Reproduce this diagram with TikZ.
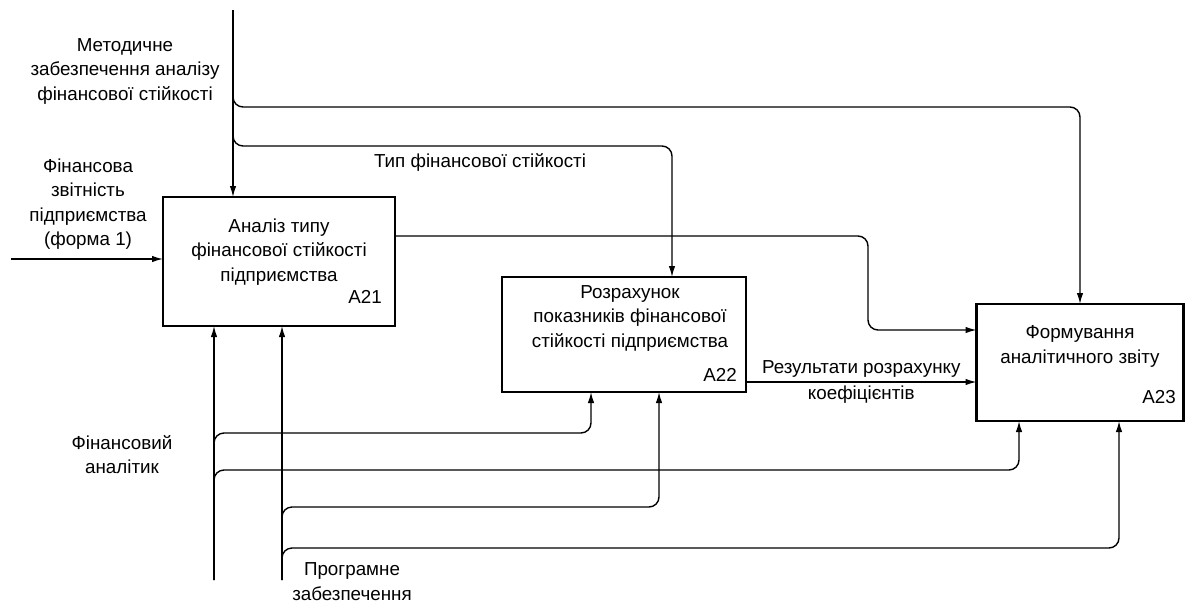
\documentclass[tikz,border=0pt]{standalone}
\usepackage{fontspec}
\setmainfont{Liberation Sans}
\usetikzlibrary{calc,arrows.meta}
\tikzset{>={Latex[length=11pt,width=6.5pt]}}
\tikzset{
  funcbox/.style={draw,line width=2.6pt,rectangle,inner sep=0pt,outer sep=0pt},
  boxtext/.style={align=center,inner sep=0pt},
  boxnum/.style={anchor=east,inner sep=0pt},
  flow/.style={line width=1.4pt,->,rounded corners=10pt}
}

\begin{document}
\begin{tikzpicture}[x=1pt,y=-1pt,font=\fontsize{18.8}{24.5}\selectfont]
  \useasboundingbox (0,0) rectangle (1186,603);
  % function boxes
  \node[funcbox,minimum width=232pt,minimum height=129pt] (A21) at (279,261.5) {};
  \node[funcbox,minimum width=244pt,minimum height=115pt] (A22) at (624,334.5) {};
  \node[funcbox,minimum width=207pt,minimum height=117pt] (A23) at (1080,362.5) {};
  \node[boxtext] (A21t) at ($(A21)+(0,-9.5)$) {Аналіз типу\\фінансової стійкості\\підприємства};
  \node[boxtext] (A22t) at ($(A22)+(6,-16.5)$) {Розрахунок\\показників фінансової\\стійкості підприємства};
  \node[boxtext] (A23t) at ($(A23)+(0,-16)$) {Формування\\аналітичного звіту};
  \node[boxnum] (A21n) at ($(A21.south east)+(-13,-29)$) {A21};
  \node[boxnum] (A22n) at ($(A22.south east)+(-9,-17)$) {A22};
  \node[boxnum] (A23n) at ($(A23.south east)+(-7.5,-24)$) {A23};
  % control
  \coordinate (ctl) at (233,10);
  \node[boxtext] (ctlt) at (125,71) {Методичне\\забезпечення аналізу\\фінансової стійкості};
  \draw[flow] (ctl) -- (ctl |- A21.north);
  \draw[flow] (ctl) |- ($(A23.north)+(0,-197)$) -- (A23.north);
  \draw[flow] (ctl) |- ($(A22.north)+(48,-131)$) -- ($(A22.north)+(48,0)$);
  \node[boxtext] (typet) at (480,162) {Тип фінансової стійкості};
  % input
  \coordinate (inp) at (11,259);
  \node[boxtext] (inpt) at (88,204) {Фінансова\\звітність\\підприємства\\(форма 1)};
  \draw[flow] (inp) -- (inp -| A21.west);
  % outputs
  \draw[flow] ($(A21.east)+(0,-25.5)$) -| ($(A23.west)+(-108.5,-32.5)$) -- ($(A23.west)+(0,-32.5)$);
  \draw[flow] ($(A22.east)+(0,47.5)$) -- ($(A23.west)+(0,19.5)$)
    node[midway,above=1pt] (rest) {Результати розрахунку}
    node[midway,below=0pt] (koeft) {коефіцієнтів};
  % mechanisms
  \coordinate (mech1) at (214,580);
  \coordinate (mech2) at (282,580);
  \node[boxtext] (mech1t) at (122,454.5) {Фінансовий\\аналітик};
  \node[boxtext] (mech2t) at (352,581.5) {Програмне\\забезпечення};
  \draw[flow] (mech1) -- (mech1 |- A21.south);
  \draw[flow] (mech2) -- (mech2 |- A21.south);
  \draw[flow] (mech1) |- ($(A22.south)+(-33,41)$) -- ($(A22.south)+(-33,0)$);
  \draw[flow] (mech1) |- ($(A23.south)+(-61,49)$) -- ($(A23.south)+(-61,0)$);
  \draw[flow] (mech2) |- ($(A22.south)+(35,115)$) -- ($(A22.south)+(35,0)$);
  \draw[flow] (mech2) |- ($(A23.south)+(39,127)$) -- ($(A23.south)+(39,0)$);
\end{tikzpicture}
\end{document}
